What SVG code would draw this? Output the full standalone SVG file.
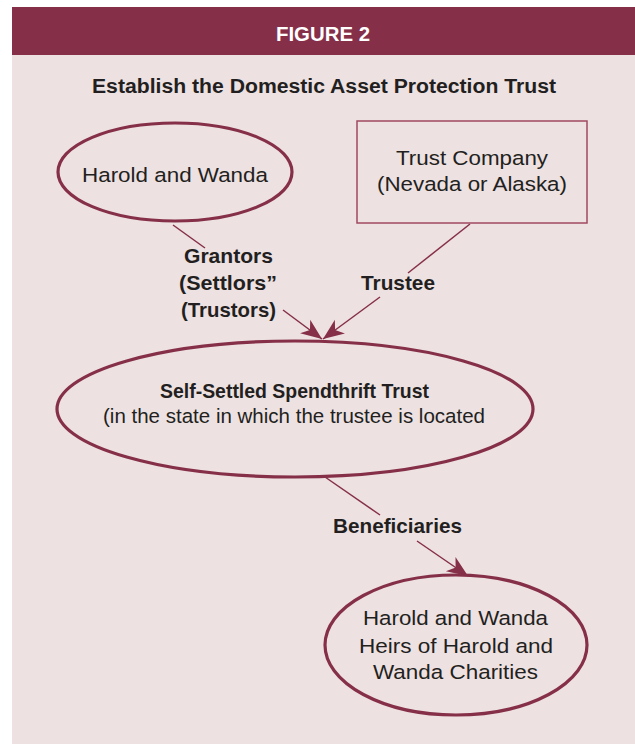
<svg xmlns="http://www.w3.org/2000/svg" width="635" height="744" viewBox="0 0 635 744">
<style>
.bg{fill:#EDE1E2}
.bar{fill:#862F49}
.node{fill:none;stroke:#862F49;stroke-width:3.2}
.box{fill:none;stroke:#A0495F;stroke-width:1.5}
.edge{fill:none;stroke:#862F49;stroke-width:1.5}
text{font-family:"Liberation Sans",Arial,sans-serif;fill:#231F20;text-anchor:middle}
.t{font-size:20.5px}
.b{font-size:21px;font-weight:bold}
</style>
<defs>
<marker id="arr" markerUnits="userSpaceOnUse" markerWidth="24" markerHeight="20" refX="21" refY="10" orient="auto">
<path d="M0,1.5 L21,10 L0,18.5 L6,10 Z" fill="#862F49"/>
</marker>
</defs>
<rect class="bg" x="12" y="7" width="623" height="737"/>
<g id="header">
<rect class="bar" x="12" y="7" width="623" height="48"/>
<text x="323" y="41" style="font-size:20px;font-weight:bold;fill:#fff" textLength="94" lengthAdjust="spacingAndGlyphs">FIGURE 2</text>
<text x="324" y="93" style="font-size:20px;font-weight:bold" textLength="464" lengthAdjust="spacingAndGlyphs">Establish the Domestic Asset Protection Trust</text>
</g>
<g id="connectors">
<line class="edge" x1="173" y1="225" x2="205" y2="248"/>
<line class="edge" x1="283" y1="310" x2="322" y2="339" marker-end="url(#arr)"/>
<line class="edge" x1="470" y1="224" x2="408" y2="273"/>
<line class="edge" x1="380" y1="297" x2="323" y2="339" marker-end="url(#arr)"/>
<line class="edge" x1="325" y1="477" x2="380" y2="515"/>
<line class="edge" x1="417" y1="541" x2="468" y2="576" marker-end="url(#arr)"/>
<text class="b" x="228.5" y="263" textLength="89" lengthAdjust="spacingAndGlyphs">Grantors</text>
<text class="b" x="228" y="290" textLength="98" lengthAdjust="spacingAndGlyphs">(Settlors”</text>
<text class="b" x="228.5" y="317" textLength="95" lengthAdjust="spacingAndGlyphs">(Trustors)</text>
<text class="b" x="398" y="290" textLength="74" lengthAdjust="spacingAndGlyphs">Trustee</text>
<text class="b" x="397.5" y="533" textLength="129" lengthAdjust="spacingAndGlyphs">Beneficiaries</text>
</g>
<g id="harold">
<ellipse class="node" cx="175" cy="172" rx="117" ry="49"/>
<text class="t" x="175" y="182" textLength="186" lengthAdjust="spacingAndGlyphs">Harold and Wanda</text>
</g>
<g id="trustco">
<rect class="box" x="357" y="121" width="230" height="102"/>
<text class="t" x="472" y="165" textLength="152" lengthAdjust="spacingAndGlyphs">Trust Company</text>
<text class="t" x="472" y="191" textLength="190" lengthAdjust="spacingAndGlyphs">(Nevada or Alaska)</text>
</g>
<g id="trust">
<ellipse class="node" cx="295" cy="409" rx="238" ry="68"/>
<text class="b" x="294.5" y="398" textLength="269" lengthAdjust="spacingAndGlyphs">Self-Settled Spendthrift Trust</text>
<text class="t" x="294" y="423" textLength="382" lengthAdjust="spacingAndGlyphs">(in the state in which the trustee is located</text>
</g>
<g id="beneficiaries">
<ellipse class="node" cx="456" cy="645" rx="131" ry="70"/>
<text class="t" x="455.5" y="625" textLength="185" lengthAdjust="spacingAndGlyphs">Harold and Wanda</text>
<text class="t" x="456" y="653" textLength="194" lengthAdjust="spacingAndGlyphs">Heirs of Harold and</text>
<text class="t" x="455.5" y="679" textLength="165" lengthAdjust="spacingAndGlyphs">Wanda Charities</text>
</g>
</svg>
